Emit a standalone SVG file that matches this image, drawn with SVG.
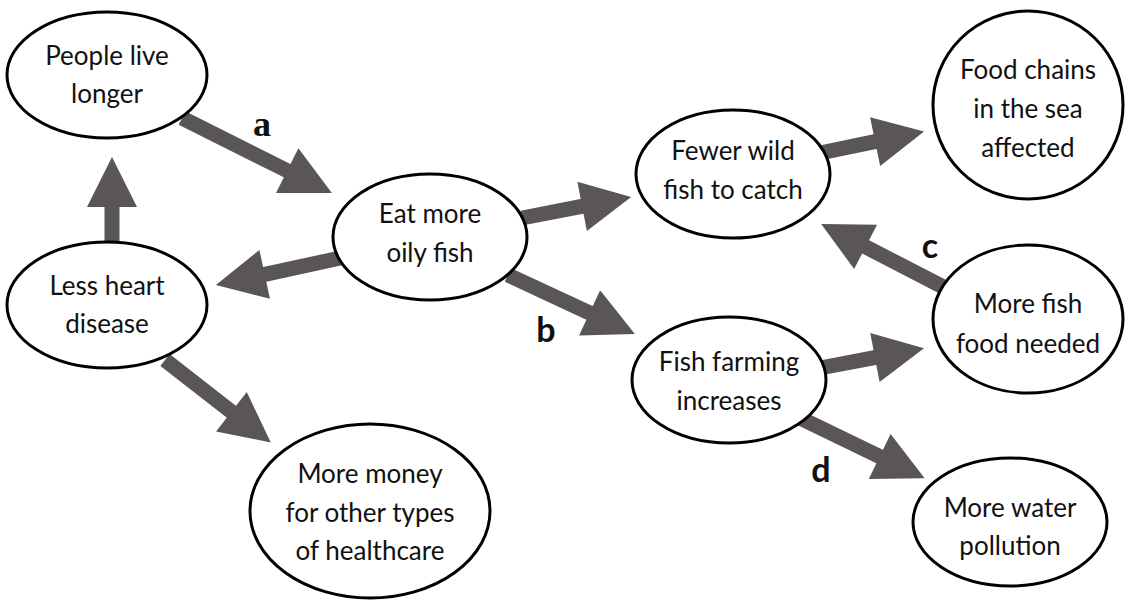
<svg xmlns="http://www.w3.org/2000/svg" width="1136" height="602" viewBox="0 0 1136 602">
<style>
.n ellipse{fill:#fff;stroke:#000;stroke-width:3}
.n text{font-family:Lato,"Open Sans",sans-serif;font-size:26px;fill:#111;text-anchor:middle}
.c line{stroke:#595655;stroke-width:15;marker-end:url(#ah)}
.lbl{font-family:Lato,"Liberation Sans",sans-serif;font-weight:bold;font-size:34px;fill:#111;text-anchor:middle}
</style>
<defs>
<marker id="ah" viewBox="0 0 10 10" refX="0.2" refY="5" markerUnits="strokeWidth" markerWidth="3.87" markerHeight="3.33" orient="auto">
<path d="M0,0 L10,5 L0,10 z" fill="#595655"/>
</marker>
</defs>
<rect width="1136" height="602" fill="#fff"/>
<g id="connectors" class="c">
<line x1="182" y1="118" x2="288.1" y2="171.1"/>
<line x1="112" y1="245" x2="112" y2="206"/>
<line x1="345" y1="257" x2="263.7" y2="274.6"/>
<line x1="165" y1="360" x2="232.2" y2="412.4"/>
<line x1="522" y1="218" x2="583.1" y2="206.2"/>
<line x1="508" y1="275" x2="590.5" y2="313.4"/>
<line x1="820" y1="153" x2="876.1" y2="141.4"/>
<line x1="955" y1="293" x2="864.7" y2="246.4"/>
<line x1="820" y1="368" x2="875.9" y2="357.4"/>
<line x1="800" y1="418" x2="880.6" y2="457.0"/>
</g>
<g id="labels">
<text class="lbl" x="262" y="136" style="font-family:'Liberation Serif',serif;font-size:36px">a</text>
<text class="lbl" x="546" y="342">b</text>
<text class="lbl" x="930" y="258">c</text>
<text class="lbl" x="821" y="482">d</text>
</g>
<g id="people" class="n"><ellipse cx="107" cy="75" rx="100" ry="63"/><text x="107" y="65">People live</text><text x="107" y="103">longer</text></g>
<g id="heart" class="n"><ellipse cx="107" cy="305" rx="100" ry="63"/><text x="107" y="295">Less heart</text><text x="107" y="333">disease</text></g>
<g id="money" class="n"><ellipse cx="370" cy="511" rx="120" ry="87"/><text x="370" y="483">More money</text><text x="370" y="522">for other types</text><text x="370" y="560">of healthcare</text></g>
<g id="eat" class="n"><ellipse cx="430" cy="237" rx="97" ry="63"/><text x="430" y="223">Eat more</text><text x="430" y="262">oily fish</text></g>
<g id="fewer" class="n"><ellipse cx="733" cy="174" rx="97" ry="64"/><text x="733" y="160">Fewer wild</text><text x="733" y="199">fish to catch</text></g>
<g id="foodchains" class="n"><ellipse cx="1028" cy="105" rx="95" ry="94"/><text x="1028" y="79">Food chains</text><text x="1028" y="118">in the sea</text><text x="1028" y="157">affected</text></g>
<g id="fishfood" class="n"><ellipse cx="1028" cy="319" rx="95" ry="74"/><text x="1028" y="313">More fish</text><text x="1028" y="353">food needed</text></g>
<g id="farming" class="n"><ellipse cx="729" cy="380" rx="97" ry="63"/><text x="729" y="371">Fish farming</text><text x="729" y="410">increases</text></g>
<g id="water" class="n"><ellipse cx="1010" cy="522" rx="97" ry="64"/><text x="1010" y="517">More water</text><text x="1010" y="555">pollution</text></g>
</svg>
